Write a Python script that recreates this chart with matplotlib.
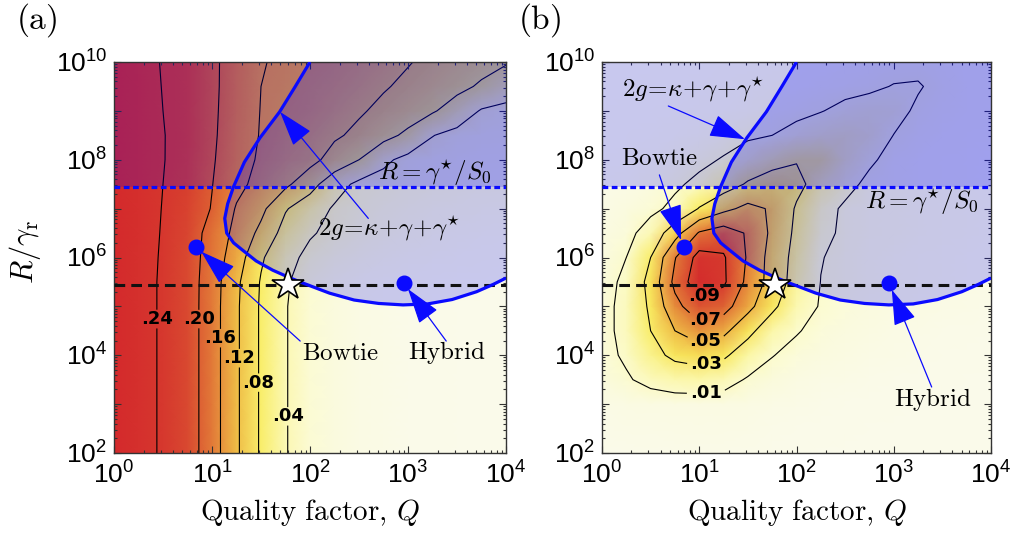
import numpy as np
import matplotlib
matplotlib.use("Agg")
import matplotlib.pyplot as plt
import matplotlib.transforms as mtransforms
from matplotlib.colors import LinearSegmentedColormap
from matplotlib.scale import InvertedLogTransform
from matplotlib.ticker import LogLocator, FuncFormatter, NullFormatter

plt.rcParams['mathtext.fontset'] = 'cm'
plt.rcParams['mathtext.rm'] = 'Liberation Sans'
plt.rcParams['mathtext.it'] = 'Liberation Sans:italic'
plt.rcParams['mathtext.bf'] = 'Liberation Sans:bold'
plt.rcParams['font.family'] = ['DejaVu Sans']

# map grid: log10(Q) across, log10(R/gamma_r) down the rows
logQ = [0, 0.25, 0.5, 0.75, 1.0, 1.25, 1.5, 1.75, 2.0, 2.25, 2.5, 2.75, 3.0, 3.25, 3.5, 3.75, 4.0]
logR = [2, 2.5, 3, 3.5, 4, 4.5, 5, 5.5, 6, 6.5, 7, 7.5, 8, 8.5, 9, 9.5, 10]

# panel (a) values
eff_a = [
    [0.265, 0.252, 0.236, 0.219, 0.178, 0.126, 0.075, 0.042, 0.020, 0.011, 0.006, 0.0035, 0.002, 0.0012, 0.0008, 0.0005, 0.0003],
    [0.265, 0.252, 0.236, 0.219, 0.178, 0.126, 0.075, 0.042, 0.020, 0.011, 0.006, 0.0035, 0.002, 0.0012, 0.0008, 0.0005, 0.0003],
    [0.265, 0.252, 0.236, 0.219, 0.178, 0.126, 0.075, 0.042, 0.020, 0.011, 0.006, 0.0035, 0.002, 0.0012, 0.0008, 0.0005, 0.0003],
    [0.265, 0.252, 0.236, 0.219, 0.178, 0.126, 0.075, 0.042, 0.020, 0.011, 0.006, 0.0035, 0.002, 0.0012, 0.0008, 0.0005, 0.0003],
    [0.265, 0.252, 0.236, 0.219, 0.178, 0.126, 0.075, 0.042, 0.020, 0.011, 0.006, 0.0035, 0.002, 0.0012, 0.0008, 0.0005, 0.0003],
    [0.265, 0.252, 0.236, 0.219, 0.178, 0.126, 0.075, 0.042, 0.020, 0.011, 0.006, 0.0035, 0.002, 0.0012, 0.0008, 0.0005, 0.0003],
    [0.265, 0.252, 0.236, 0.219, 0.178, 0.126, 0.075, 0.042, 0.020, 0.011, 0.006, 0.0035, 0.002, 0.0012, 0.0008, 0.0005, 0.0003],
    [0.265, 0.252, 0.236, 0.219, 0.179, 0.128, 0.077, 0.044, 0.023, 0.014, 0.009, 0.006, 0.004, 0.003, 0.002, 0.0015, 0.001],
    [0.265, 0.252, 0.237, 0.220, 0.182, 0.140, 0.085, 0.050, 0.032, 0.022, 0.016, 0.012, 0.009, 0.007, 0.005, 0.004, 0.003],
    [0.265, 0.253, 0.238, 0.222, 0.185, 0.150, 0.110, 0.065, 0.043, 0.032, 0.024, 0.018, 0.014, 0.011, 0.009, 0.007, 0.006],
    [0.265, 0.253, 0.239, 0.225, 0.198, 0.157, 0.130, 0.083, 0.058, 0.036, 0.028, 0.022, 0.018, 0.015, 0.013, 0.011, 0.010],
    [0.265, 0.253, 0.240, 0.227, 0.201, 0.170, 0.148, 0.128, 0.095, 0.055, 0.032, 0.028, 0.024, 0.021, 0.019, 0.017, 0.016],
    [0.265, 0.254, 0.241, 0.229, 0.204, 0.175, 0.155, 0.142, 0.132, 0.105, 0.080, 0.047, 0.030, 0.025, 0.022, 0.020, 0.019],
    [0.265, 0.254, 0.241, 0.230, 0.206, 0.178, 0.158, 0.148, 0.138, 0.125, 0.112, 0.092, 0.072, 0.041, 0.030, 0.026, 0.024],
    [0.265, 0.254, 0.240, 0.230, 0.207, 0.180, 0.159, 0.152, 0.145, 0.135, 0.124, 0.112, 0.099, 0.084, 0.062, 0.037, 0.030],
    [0.265, 0.253, 0.239, 0.230, 0.208, 0.181, 0.160, 0.155, 0.148, 0.141, 0.133, 0.123, 0.113, 0.102, 0.090, 0.075, 0.060],
    [0.265, 0.252, 0.238, 0.230, 0.208, 0.182, 0.161, 0.157, 0.152, 0.146, 0.139, 0.132, 0.122, 0.112, 0.102, 0.093, 0.083],
]

# panel (b) values
eff_b = [
    [0.0005, 0.0007, 0.0009, 0.001, 0.001, 0.001, 0.0009, 0.0007, 0.0005, 0.0004, 0.0003, 0.0003, 0.0002, 0.0002, 0.0002, 0.0002, 0.0002],
    [0.001, 0.0013, 0.0016, 0.0018, 0.0018, 0.0017, 0.0014, 0.001, 0.0008, 0.0006, 0.0005, 0.0004, 0.0003, 0.0003, 0.0003, 0.0002, 0.0002],
    [0.002, 0.0025, 0.003, 0.0032, 0.0032, 0.003, 0.0025, 0.002, 0.0015, 0.001, 0.0008, 0.0006, 0.0005, 0.0004, 0.0004, 0.0003, 0.0003],
    [0.005, 0.0085, 0.014, 0.018, 0.019, 0.016, 0.0085, 0.005, 0.003, 0.002, 0.0015, 0.001, 0.0008, 0.0006, 0.0005, 0.0004, 0.0004],
    [0.006, 0.012, 0.024, 0.034, 0.038, 0.033, 0.020, 0.0105, 0.006, 0.004, 0.003, 0.002, 0.0015, 0.001, 0.0008, 0.0007, 0.0006],
    [0.006, 0.014, 0.030, 0.050, 0.062, 0.055, 0.035, 0.019, 0.011, 0.006, 0.004, 0.003, 0.002, 0.0015, 0.0012, 0.001, 0.0008],
    [0.006, 0.014, 0.033, 0.064, 0.083, 0.078, 0.056, 0.034, 0.017, 0.009, 0.006, 0.004, 0.003, 0.0025, 0.002, 0.0015, 0.0012],
    [0.005, 0.013, 0.036, 0.075, 0.103, 0.093, 0.065, 0.042, 0.022, 0.0098, 0.007, 0.005, 0.004, 0.003, 0.0025, 0.002, 0.0015],
    [0.004, 0.010, 0.030, 0.069, 0.097, 0.092, 0.068, 0.042, 0.024, 0.0105, 0.007, 0.005, 0.004, 0.003, 0.0025, 0.002, 0.0015],
    [0.003, 0.006, 0.016, 0.042, 0.072, 0.080, 0.068, 0.046, 0.026, 0.013, 0.008, 0.006, 0.005, 0.004, 0.003, 0.0025, 0.002],
    [0.002, 0.004, 0.007, 0.013, 0.031, 0.045, 0.055, 0.048, 0.028, 0.015, 0.008, 0.006, 0.005, 0.004, 0.003, 0.0025, 0.002],
    [0.001, 0.002, 0.004, 0.008, 0.013, 0.021, 0.032, 0.038, 0.035, 0.022, 0.014, 0.007, 0.005, 0.004, 0.003, 0.0025, 0.002],
    [0.0008, 0.001, 0.002, 0.004, 0.007, 0.011, 0.017, 0.024, 0.029, 0.029, 0.020, 0.012, 0.006, 0.004, 0.003, 0.0025, 0.002],
    [0.0005, 0.0007, 0.001, 0.002, 0.003, 0.005, 0.008, 0.010, 0.014, 0.018, 0.020, 0.017, 0.0098, 0.006, 0.004, 0.003, 0.0025],
    [0.0004, 0.0005, 0.0007, 0.001, 0.0015, 0.002, 0.003, 0.005, 0.007, 0.0095, 0.013, 0.015, 0.014, 0.008, 0.005, 0.004, 0.003],
    [0.0003, 0.0004, 0.0005, 0.0007, 0.001, 0.0013, 0.0018, 0.0025, 0.0035, 0.005, 0.0065, 0.008, 0.0105, 0.011, 0.0065, 0.004, 0.003],
    [0.0002, 0.0003, 0.0004, 0.0005, 0.0007, 0.0009, 0.0012, 0.0016, 0.0022, 0.003, 0.004, 0.005, 0.006, 0.0065, 0.005, 0.0035, 0.0025],
]

levels_a = [0.04, 0.08, 0.12, 0.16, 0.20, 0.24]
levels_b = [0.01, 0.03, 0.05, 0.07, 0.09]
vmax_a = 0.265
vmax_b = 0.105

# where the contour labels sit (log10 Q, log10 R)
lab_a_logQ = [0.44, 0.86, 1.07, 1.27, 1.47, 1.77]
lab_a_logR = [4.74, 4.74, 4.35, 3.94, 3.44, 2.75]
lab_b_logQ = [1.07, 1.07, 1.07, 1.07, 1.06]
lab_b_logR = [3.22, 3.82, 4.23, 4.66, 5.15]

# strong coupling boundary 2g = kappa + gamma + gamma*
curve_logQ = [2.0, 1.85, 1.69, 1.49, 1.33, 1.22, 1.16, 1.13, 1.15, 1.22, 1.30, 1.45, 1.62, 1.80, 1.95,
              2.2, 2.45, 2.7, 2.95, 3.2, 3.45, 3.7, 3.87, 4.0]
curve_logR = [10.0, 9.5, 8.98, 8.45, 7.95, 7.45, 7.1, 6.8, 6.5, 6.3, 6.17, 5.93, 5.74, 5.58, 5.46,
              5.27, 5.13, 5.06, 5.03, 5.05, 5.14, 5.3, 5.45, 5.58]

R_sat = 2.75e7      # R = gamma*/S0
R_op = 2.75e5       # dashed operating line
star_Q, star_R = 60, 2.75e5
bowtie_Q, bowtie_R = 6.9, 1.66e6
hybrid_Q, hybrid_R = 900, 2.95e5

cmap = LinearSegmentedColormap.from_list('heat', [
    (0.0, '#fafaea'), (0.1, '#fbfbcc'), (0.2, '#fbf6a0'), (0.3, '#f9ec60'),
    (0.45, '#f1c548'), (0.6, '#e68f3c'), (0.75, '#dd6033'), (0.88, '#d6392e'),
    (1.0, '#d42a2c')])

BLUE = '#0a0aff'


def p(lq, lr):
    return 10 ** lq, 10 ** lr


def tick_fmt(v, pos):
    return r'$10^{%d}$' % int(round(np.log10(v)))


def ytick_fmt(v, pos):
    e = int(round(np.log10(v)))
    return tick_fmt(v, pos) if e % 2 == 0 else ''


def draw_panel(ax, Z, vmax, levels, lab_q, lab_r, spacing, notes):
    Z = np.array(Z)
    Q = 10 ** np.array(logQ)
    R = 10 ** np.array(logR)
    ax.set_xscale('log')
    ax.set_yscale('log')
    ax.pcolormesh(Q, R, Z, shading='gouraud', cmap=cmap, vmin=0, vmax=vmax,
                  rasterized=True, zorder=0)
    # contour in log space so the lines run straight between grid nodes
    logtr = mtransforms.blended_transform_factory(InvertedLogTransform(10),
                                                  InvertedLogTransform(10))
    cs = ax.contour(logQ, logR, Z, levels=levels, colors='black',
                    linewidths=0.8, transform=logtr + ax.transData, zorder=1)
    manual = [p(a, b) for a, b in zip(lab_q, lab_r)]
    txts = ax.clabel(cs, levels=levels, inline=True, inline_spacing=spacing, fontsize=13,
                     fmt=lambda v: ('%.2f' % v)[1:], manual=manual)
    for t in txts:
        t.set_rotation(0)
        t.set_fontweight('bold')

    # shaded regions
    ax.axhspan(R_sat, 1e10, color='blue', alpha=0.2, lw=0, zorder=2)
    cq = list(10 ** np.array(curve_logQ)) + [1e4]
    cr = list(10 ** np.array(curve_logR)) + [1e10]
    ax.fill(cq, cr, color='blue', alpha=0.2, lw=0, zorder=2)

    ax.axhline(R_sat, color=BLUE, lw=2.3, ls=(0, (1.8, 1.1)), zorder=3)
    ax.axhline(R_op, color='#111111', lw=2.2, ls=(0, (3.5, 2.0)), zorder=3)
    ax.plot(10 ** np.array(curve_logQ), 10 ** np.array(curve_logR), color=BLUE,
            lw=2.3, zorder=4, solid_capstyle='butt')
    ax.plot([bowtie_Q, hybrid_Q], [bowtie_R, hybrid_R], 'o', color=BLUE, ms=10.5,
            zorder=5)
    ax.plot([star_Q], [star_R], marker='*', ms=24, mfc='white', mec='black',
            mew=1.2, zorder=6)

    for txt, txy, ha, tail, tip in notes:
        ax.text(*p(*txy), txt, ha=ha, va='center', fontsize=18, zorder=7)
        if tail is not None:
            ax.annotate('', xy=p(*tip), xytext=p(*tail),
                        arrowprops=dict(arrowstyle='-|>,head_length=1.25,head_width=0.4',
                                        color=BLUE, lw=0.9, mutation_scale=18,
                                        shrinkA=0, shrinkB=0),
                        zorder=7)

    ax.set_xlim(1, 1e4)
    ax.set_ylim(1e2, 1e10)
    ax.xaxis.set_major_locator(LogLocator(base=10, numticks=10))
    ax.xaxis.set_major_formatter(FuncFormatter(tick_fmt))
    ax.xaxis.set_minor_locator(LogLocator(base=10, subs=np.arange(2, 10), numticks=100))
    ax.xaxis.set_minor_formatter(NullFormatter())
    ax.yaxis.set_major_locator(LogLocator(base=10, numticks=20))
    ax.yaxis.set_major_formatter(FuncFormatter(ytick_fmt))
    ax.yaxis.set_minor_locator(LogLocator(base=10, subs=np.arange(2, 10), numticks=100))
    ax.yaxis.set_minor_formatter(NullFormatter())
    ax.tick_params(which='both', direction='in', top=True, right=True, width=0.8,
                   color='#333333')
    ax.tick_params(which='major', length=5, labelsize=19)
    ax.tick_params(axis='x', which='major', pad=7)
    ax.tick_params(axis='y', which='major', pad=5)
    ax.tick_params(which='minor', length=2.5)
    for lbl in ax.get_xticklabels() + ax.get_yticklabels():
        lbl.set_math_fontfamily('custom')
    for s in ax.spines.values():
        s.set_linewidth(1.0)
        s.set_color('#333333')


fig = plt.figure(figsize=(10.14, 5.41), dpi=100)
ax_a = fig.add_axes([114 / 1014, 1 - 453 / 541, 392 / 1014, 391 / 541])
ax_b = fig.add_axes([602 / 1014, 1 - 453 / 541, 389 / 1014, 391 / 541])

eq_coupling = r'$2g\!=\!\kappa\!+\!\gamma\!+\!\gamma^{\star}$'
eq_sat = r'$R=\gamma^{\star}/S_0$'

notes_a = [
    (eq_coupling, (2.81, 6.6), 'center', (2.595, 6.80), (1.694, 8.98)),
    (eq_sat, (3.854, 7.72), 'right', None, None),
    (r'$\mathrm{Bowtie}$', (2.31, 4.05), 'center', (1.90, 4.29), (0.89, 6.12)),
    (r'$\mathrm{Hybrid}$', (3.40, 4.05), 'center', (3.39, 4.29), (3.0, 5.355)),
]
notes_b = [
    (eq_coupling, (0.934, 9.43), 'center', (0.682, 9.10), (1.47, 8.42)),
    (r'$\mathrm{Bowtie}$', (0.591, 8.03), 'center', (0.59, 7.69), (0.813, 6.355)),
    (eq_sat, (3.87, 7.14), 'right', None, None),
    (r'$\mathrm{Hybrid}$', (3.40, 3.1), 'center', (3.39, 3.35), (2.98, 5.34)),
]

draw_panel(ax_a, eff_a, vmax_a, levels_a, lab_a_logQ, lab_a_logR, -5, notes_a)
draw_panel(ax_b, eff_b, vmax_b, levels_b, lab_b_logQ, lab_b_logR, 5, notes_b)

xlabel = r'$\mathrm{Quality\ factor,}\,Q$'
fig.text(310 / 1014, 1 - 512 / 541, xlabel, ha='center', va='center', fontsize=21)
fig.text(797 / 1014, 1 - 512 / 541, xlabel, ha='center', va='center', fontsize=21)
fig.text(25 / 1014, 1 - 252 / 541, r'$R/\gamma_{\mathrm{r}}$', ha='center', va='center',
         rotation=90, fontsize=22)
fig.text(37 / 1014, 1 - 20 / 541, r'$\mathrm{(a)}$', ha='center', va='center', fontsize=24)
fig.text(540 / 1014, 1 - 20 / 541, r'$\mathrm{(b)}$', ha='center', va='center', fontsize=24)

fig.savefig('out.png', dpi=100)
